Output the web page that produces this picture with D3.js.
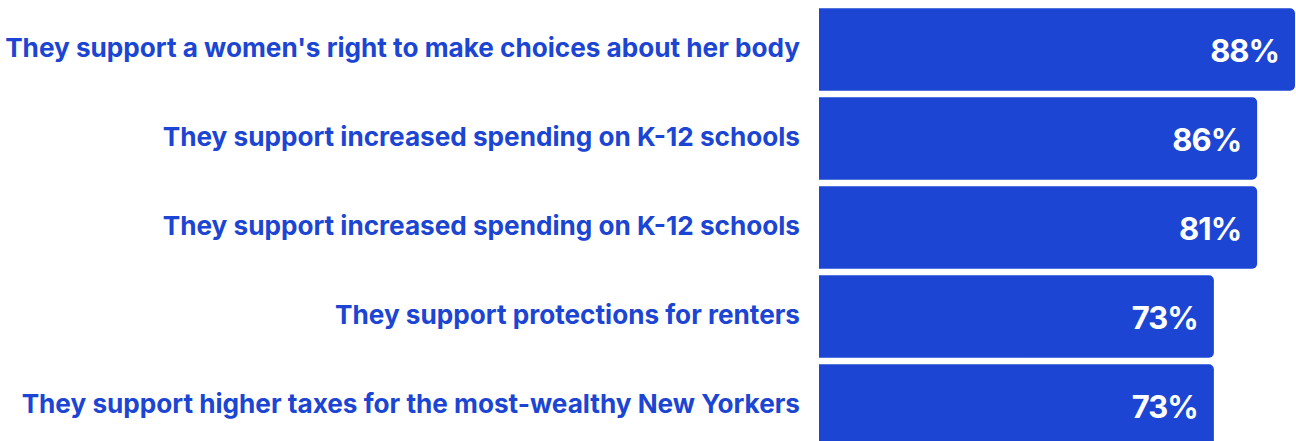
<!DOCTYPE html>
<html>
<head>
<meta charset="utf-8">
<script src="https://cdn.jsdelivr.net/npm/d3@7"></script>
<style>
  html, body { margin: 0; padding: 0; background: #ffffff; }
  svg { display: block; }
</style>
</head>
<body>
<svg id="chart" width="1296" height="441"></svg>
<script>
const categories = [
  "They support a women's right to make choices about her body",
  "They support increased spending on K-12 schools",
  "They support increased spending on K-12 schools",
  "They support protections for renters",
  "They support higher taxes for the most-wealthy New Yorkers"
];
const barValues = [88, 81, 81, 73, 73];
const labelValues = [88, 86, 81, 73, 73];

const color = "#1b45d2";
const svg = d3.select("#chart");

const x = d3.scaleLinear().domain([0, 88]).range([819, 1295]);
const y = d3.scaleBand().domain(d3.range(categories.length))
  .range([8.3, 446.8]).paddingInner(0.073).paddingOuter(0);

function barPath(x0, x1, y0, h, r) {
  const p = d3.path();
  p.moveTo(x0, y0);
  p.lineTo(x1 - r, y0);
  p.arcTo(x1, y0, x1, y0 + r, r);
  p.lineTo(x1, y0 + h - r);
  p.arcTo(x1, y0 + h, x1 - r, y0 + h, r);
  p.lineTo(x0, y0 + h);
  p.closePath();
  return p.toString();
}

svg.selectAll("path.bar").data(barValues).join("path")
  .attr("class", "bar")
  .attr("fill", color)
  .attr("d", (d, i) => barPath(x(0), x(d), y(i), y.bandwidth(), 5));

svg.selectAll("text.cat").data(categories).join("text")
  .attr("class", "cat")
  .attr("x", 800)
  .attr("y", (d, i) => y(i) + y.bandwidth() / 2 - 2)
  .attr("text-anchor", "end")
  .attr("dominant-baseline", "central")
  .attr("font-family", "Inter, 'Noto Sans', sans-serif")
  .attr("font-weight", 700)
  .attr("font-size", 26.15)
  .attr("fill", color)
  .text(d => d);

svg.selectAll("text.val").data(labelValues).join("text")
  .attr("class", "val")
  .attr("x", (d, i) => x(barValues[i]) - 16)
  .attr("y", (d, i) => y(i) + y.bandwidth() / 2 + 1)
  .attr("text-anchor", "end")
  .attr("dominant-baseline", "central")
  .attr("font-family", "Inter, 'Noto Sans', sans-serif")
  .attr("font-weight", 700)
  .attr("font-size", 31)
  .attr("letter-spacing", -1)
  .attr("fill", "#ffffff")
  .text(d => d + "%");
</script>
</body>
</html>
